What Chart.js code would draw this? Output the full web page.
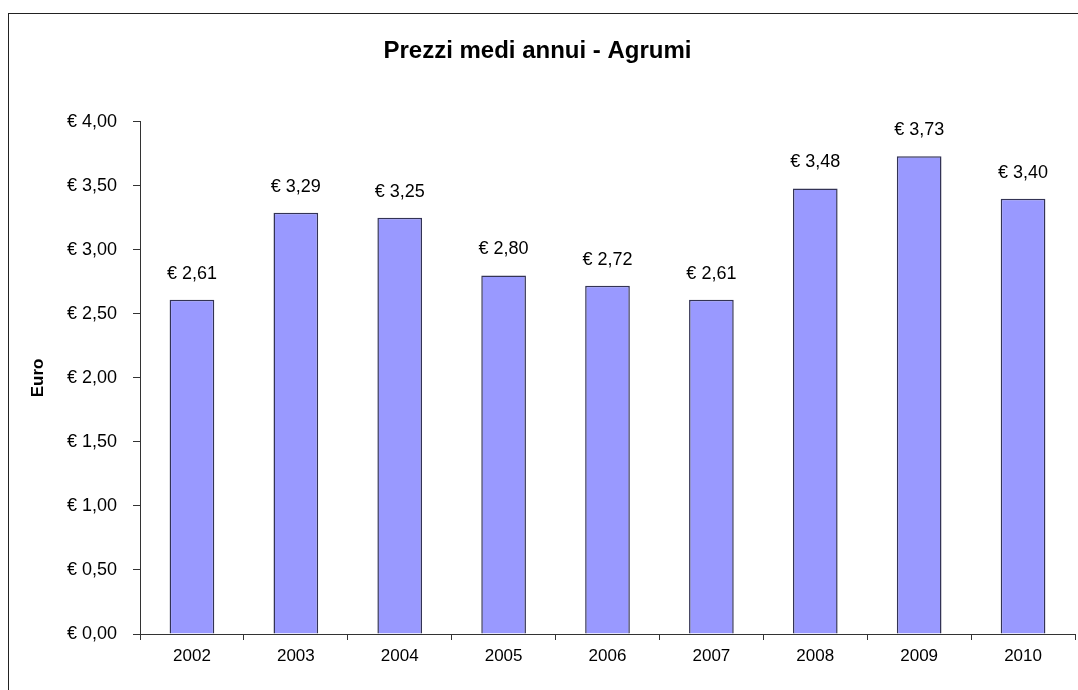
<!DOCTYPE html>
<html>
<head>
<meta charset="utf-8">
<script src="https://cdn.jsdelivr.net/npm/chart.js@4"></script>
<style>
  body { margin: 0; background: #fff; }
  #wrap { width: 1078px; height: 690px; position: relative; }
</style>
</head>
<body>
<div id="wrap"><canvas id="myChart" width="1078" height="690"></canvas></div>
<script>
const years = ["2002", "2003", "2004", "2005", "2006", "2007", "2008", "2009", "2010"];
const prices = [2.61, 3.29, 3.25, 2.8, 2.72, 2.61, 3.48, 3.73, 3.4];

const euro = (v) => "€ " + Number(v).toFixed(2).replace(".", ",");
const FONT = "'Liberation Sans', Arial, sans-serif";

// outer frame + value labels above bars
const extras = {
  id: "extras",
  beforeDraw(chart) {
    const ctx = chart.ctx;
    ctx.save();
    ctx.fillStyle = "#fff";
    ctx.fillRect(0, 0, chart.width, chart.height);
    ctx.strokeStyle = "#222";
    ctx.lineWidth = 1;
    ctx.strokeRect(8.5, 13.5, 1080, 700);
    ctx.restore();
  },
  afterDatasetsDraw(chart) {
    const ctx = chart.ctx;
    const meta = chart.getDatasetMeta(0);
    ctx.save();
    ctx.font = "18px " + FONT;
    ctx.fillStyle = "#000";
    ctx.textAlign = "center";
    ctx.textBaseline = "middle";
    meta.data.forEach((bar, i) => {
      ctx.fillText(euro(prices[i]), bar.x, bar.y - 26);
    });
    ctx.restore();
  },
};

const config = {
  type: "bar",
  data: {
    labels: years,
    datasets: [
      {
        label: "Prezzi",
        data: prices,
        backgroundColor: "#9999ff",
        borderColor: "#333355",
        borderWidth: 1.5,
        barPercentage: 0.43,
        categoryPercentage: 1,
      },
    ],
  },
  options: {
    responsive: false,
    animation: false,
    layout: { padding: { left: 0, right: 3, top: 0, bottom: 0 } },
    scales: {
      x: {
        grid: {
          display: true,
          drawOnChartArea: false,
          offset: true,
          tickLength: 6,
          color: "#333",
        },
        border: { color: "#333", width: 1 },
        ticks: {
          color: "#000",
          padding: 6,
          font: { size: 17, family: FONT },
        },
        afterFit(scale) {
          scale.height = 56;
        },
      },
      y: {
        min: 0,
        max: 4,
        grid: {
          display: true,
          drawOnChartArea: false,
          tickLength: 7,
          color: "#333",
        },
        border: { color: "#333", width: 1 },
        ticks: {
          stepSize: 0.5,
          color: "#000",
          padding: 16,
          font: { size: 18, family: FONT },
          callback: (v) => euro(v),
        },
        title: {
          display: true,
          text: "Euro",
          color: "#000",
          padding: { top: 28, bottom: 0 },
          font: { size: 17, weight: "bold", family: FONT },
        },
        afterFit(scale) {
          scale.width = 140;
        },
      },
    },
    plugins: {
      legend: { display: false },
      tooltip: { enabled: false },
      title: {
        display: true,
        text: "Prezzi medi annui - Agrumi",
        color: "#000",
        padding: { top: 37, bottom: 56 },
        font: { size: 24, weight: "bold", family: FONT },
      },
    },
  },
  plugins: [extras],
};

new Chart(document.getElementById("myChart"), config);
</script>
</body>
</html>
